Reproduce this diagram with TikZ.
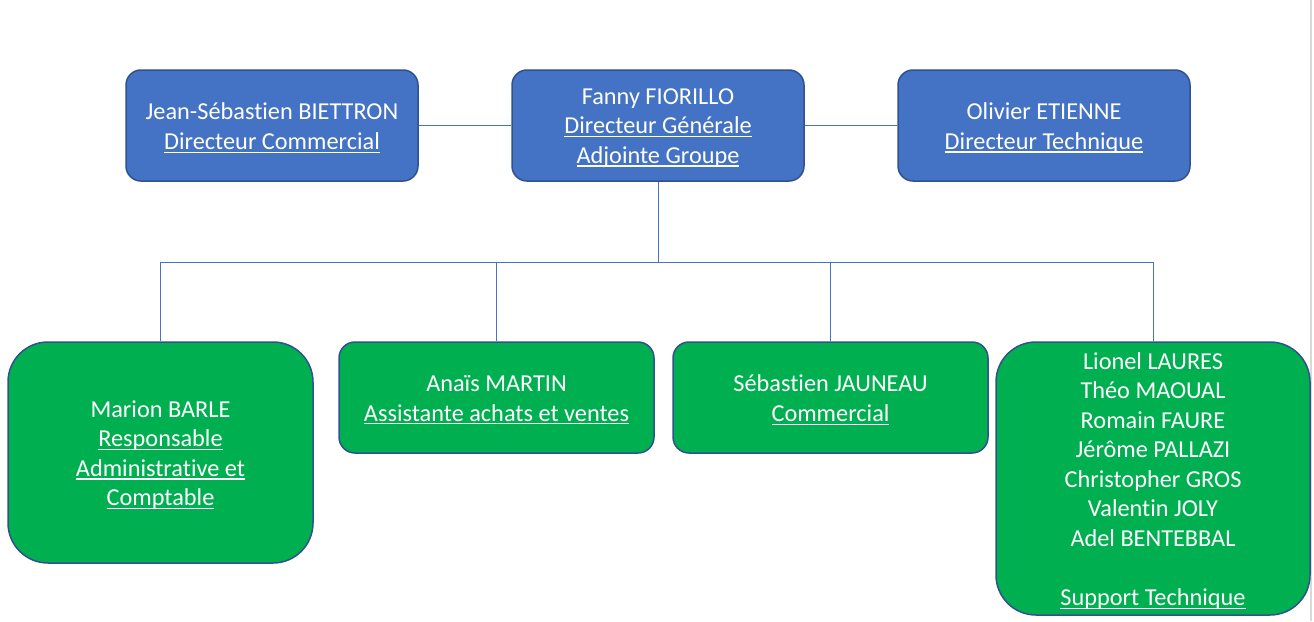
\documentclass[tikz,border=0pt]{standalone}
\usepackage{fontspec}
\setmainfont{Carlito}[Ligatures={NoCommon,NoContextual,NoRequired},Contextuals=NoAlternate]
\newcommand\ulx[1]{\setbox0\hbox{#1}\rlap{\rule[-3.4pt]{\wd0}{1.3pt}}\box0}
\definecolor{boxblue}{HTML}{4472C4}
\definecolor{boxgreen}{HTML}{00B050}
\definecolor{edgeblue}{HTML}{2F528F}
\definecolor{linkblue}{HTML}{4472C4}
\begin{document}
\begin{tikzpicture}[x=1pt,y=-1pt,
  box/.style={draw=edgeblue,line width=1.5pt,inner sep=0pt,rectangle},
  txt/.style={text=white,align=center,font=\fontsize{24.3}{29.5}\selectfont,inner sep=0pt},
  bluebox/.style={box,fill=boxblue,rounded corners=15pt,minimum width=292pt,minimum height=111pt},
  greenbox/.style={box,fill=boxgreen},
  link/.style={draw=linkblue,line width=1pt}]
\fill[white] (0,0) rectangle (1314,621);
\useasboundingbox (0,0) rectangle (1314,621);
\draw[gray!30,line width=1.5pt] (1311,0) -- (1311,621);

\node[bluebox] (b1) at (272,125.5) {};
\node[bluebox] (b2) at (658,125.5) {};
\node[bluebox] (b3) at (1044,125.5) {};
\node[greenbox,rounded corners=40pt,minimum width=305pt,minimum height=221pt] (g1) at (160.5,452.5) {};
\node[greenbox,rounded corners=16pt,minimum width=315pt,minimum height=111pt] (g2) at (496.5,397.5) {};
\node[greenbox,rounded corners=16pt,minimum width=315pt,minimum height=111pt] (g3) at (830.5,397.5) {};
\node[greenbox,rounded corners=40pt,minimum width=314pt,minimum height=273pt] (g4) at (1153,478.5) {};

\node[txt] (b1t) at ([yshift=-2.5pt]b1.center) {Jean-Sébastien BIETTRON\\\ulx{Directeur Commercial}};
\node[txt] (b2t) at ([yshift=-2.5pt]b2.center) {Fanny FIORILLO\\\ulx{Directeur Générale}\\\ulx{Adjointe Groupe}};
\node[txt] (b3t) at ([yshift=-2.5pt]b3.center) {Olivier ETIENNE\\\ulx{Directeur Technique}};
\node[txt] (g1t) at ([yshift=-2.5pt]g1.center) {Marion BARLE\\\ulx{Responsable}\\\ulx{Administrative et}\\\ulx{Comptable}};
\node[txt] (g2t) at ([yshift=-2.5pt]g2.center) {Anaïs MARTIN\\\ulx{Assistante achats et ventes}};
\node[txt] (g3t) at ([yshift=-2.5pt]g3.center) {Sébastien JAUNEAU\\\ulx{Commercial}};
\node[txt] (g4t) at ([yshift=-2.5pt]g4.center) {Lionel LAURES\\Théo MAOUAL\\Romain FAURE\\Jérôme PALLAZI\\Christopher GROS\\Valentin JOLY\\Adel BENTEBBAL\\[29.5pt]\ulx{Support Technique}};

\coordinate (bus) at (658,262);
\draw[link] (b1.east) -- (b2.west);
\draw[link] (b2.east) -- (b3.west);
\draw[link] (b2.south) -- (bus);
\draw[link] (g1.north |- bus) -- (g4.north |- bus);
\draw[link] (g1.north |- bus) -- (g1.north);
\draw[link] (g2.north |- bus) -- (g2.north);
\draw[link] (g3.north |- bus) -- (g3.north);
\draw[link] (g4.north |- bus) -- (g4.north);
\end{tikzpicture}
\end{document}
